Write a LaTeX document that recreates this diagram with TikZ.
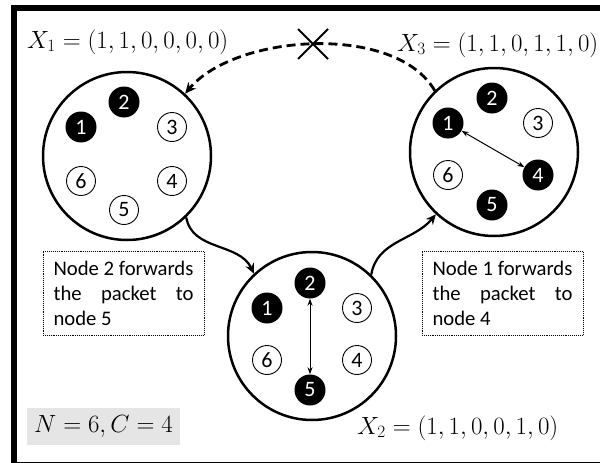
\documentclass[tikz,border=0pt]{standalone}
\usepackage{fontspec}
\setmainfont{Carlito}
\usetikzlibrary{arrows.meta,shapes.misc}
\newcommand\fwdtext[2]{\setbox0\hbox{Node #1 forwards}\vbox{\baselineskip=25pt\hbox{Node #1 forwards}\hbox to \wd0{the\hfill packet\hfill to}\hbox{node #2}}}
\tikzset{
  bigc/.style={circle,draw,line width=2.5pt,minimum size=168pt,inner sep=0pt},
  wn/.style={circle,draw,line width=0.9pt,minimum size=29pt,inner sep=0pt,font=\fontsize{22}{22}\selectfont},
  bn/.style={circle,fill=black,text=white,minimum size=31pt,inner sep=0pt,font=\fontsize{22}{22}\selectfont},
  flow/.style={line width=2.2pt,-{Stealth[length=10pt,width=9pt]}},
  dflow/.style={line width=2.8pt,dash pattern=on 9pt off 5pt,-{Stealth[length=11pt,width=10pt]}},
  link/.style={line width=1pt,{Stealth[length=7pt,width=5pt]}-{Stealth[length=7pt,width=5pt]}},
  note/.style={draw,densely dotted,line width=0.9pt,minimum width=161pt,minimum height=84pt,inner sep=0pt,font=\fontsize{20.7}{25}\selectfont},
  mlab/.style={anchor=west,inner sep=0pt,font=\fontsize{24.3}{28}\selectfont},
}
\begin{document}
\begin{tikzpicture}[x=1pt,y=-1pt]
\useasboundingbox (0,0) rectangle (600,463);
\clip (0,0) rectangle (600,463);
\draw[line width=6pt] (14,8) rectangle (606,465);
% big circles
\node[bigc] (c1) at (127,156) {};
\node[bigc] (c2) at (312,336) {};
\node[bigc] (c3) at (494,152) {};
% ring 1
\begin{scope}[shift={(127,156)}]
\node[bn] (a2) at (-3,-54) {2};
\node[bn] (a1) at (-46,-29) {1};
\node[wn] (a3) at (45,-29) {3};
\node[wn] (a6) at (-46,25) {6};
\node[wn] (a4) at (45,25) {4};
\node[wn] (a5) at (-3,54) {5};
\end{scope}
% ring 2
\begin{scope}[shift={(312,336)}]
\node[bn] (b2) at (-2,-53) {2};
\node[bn] (b1) at (-45,-28) {1};
\node[wn] (b3) at (45,-28) {3};
\node[wn] (b6) at (-45,24) {6};
\node[wn] (b4) at (45,24) {4};
\node[bn] (b5) at (-2,54) {5};
\end{scope}
% ring 3
\begin{scope}[shift={(494,152)}]
\node[bn] (d2) at (-2,-54) {2};
\node[bn] (d1) at (-46,-29) {1};
\node[wn] (d3) at (44,-29) {3};
\node[wn] (d6) at (-46,23) {6};
\node[bn] (d4) at (44,23) {4};
\node[bn] (d5) at (-2,53) {5};
\end{scope}
% inner links
\draw[link] (b2.south) -- (b5.north);
\draw[link] (d1) -- (d4);
% transitions
\draw[flow] (c1.-46) to[out=-80,in=115] (c2.133);
\draw[flow] (c2.46) to[out=80,in=230] (c3.-133);
\draw[dflow] (c3.134) to[out=120,in=50,looseness=0.8] (c1.47);
\node[cross out,draw,line width=2pt,minimum size=28pt,inner sep=0pt] (xmark) at (313,44) {};
% labels
\node[mlab] (x1) at (27,42) {$X_1=(1,1,0,0,0,0)$};
\node[mlab] (x3) at (397,45) {$X_3=(1,1,0,1,1,0)$};
\node[mlab] (x2) at (357,428) {$X_2=(1,1,0,0,1,0)$};
\node[note] (n1) at (123.5,293) {\fwdtext{2}{5}};
\node[note] (n2) at (502.5,293) {\fwdtext{1}{4}};
\node[fill=black!10,minimum width=153pt,minimum height=37pt,inner sep=0pt,font=\fontsize{24.3}{28}\selectfont] (nc) at (103.5,426.5) {$N=6,C=4$};
\end{tikzpicture}
\end{document}
